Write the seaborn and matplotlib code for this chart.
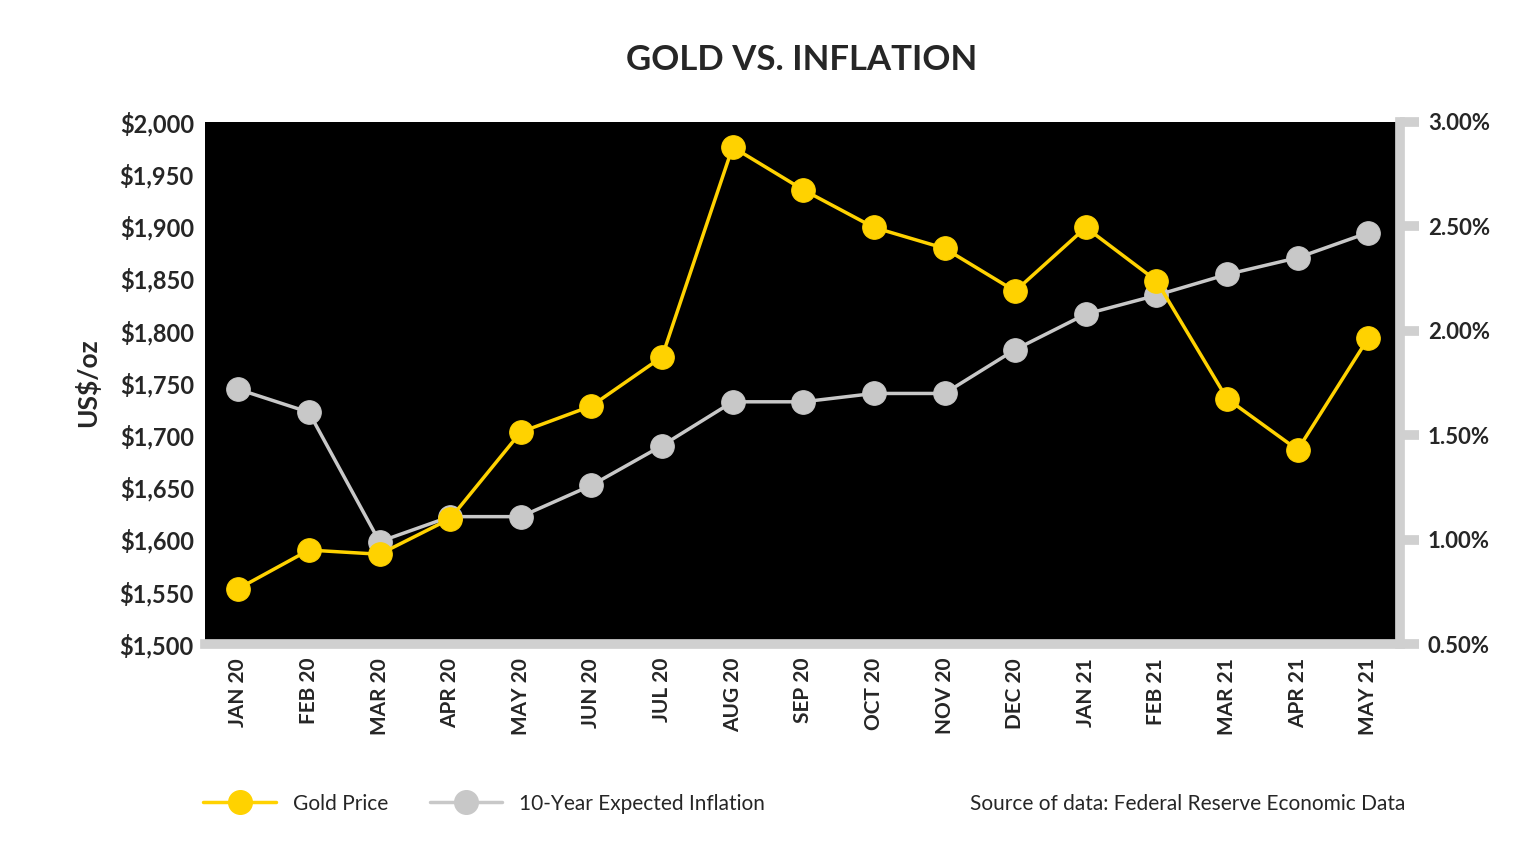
import matplotlib
matplotlib.use("Agg")
import matplotlib.pyplot as plt
from matplotlib.ticker import FuncFormatter
import seaborn as sns
import pandas as pd

months = ["JAN 20", "FEB 20", "MAR 20", "APR 20", "MAY 20", "JUN 20", "JUL 20", "AUG 20",
          "SEP 20", "OCT 20", "NOV 20", "DEC 20", "JAN 21", "FEB 21", "MAR 21", "APR 21", "MAY 21"]
gold_price = [1553, 1590, 1586, 1620, 1703, 1728, 1775, 1976, 1935, 1899, 1879, 1838,
              1899, 1848, 1735, 1686, 1793]
inflation = [1.72, 1.61, 0.99, 1.11, 1.11, 1.26, 1.45, 1.66, 1.66, 1.70, 1.70, 1.91,
             2.08, 2.17, 2.27, 2.35, 2.47]

sns.set_style("white")
plt.rcParams['font.family'] = ['Lato', 'DejaVu Sans']

df = pd.DataFrame({"month": months, "x": range(len(months)),
                   "gold": gold_price, "infl": inflation})

GOLD = "#FFD200"
GREY = "#C8C8C8"

fig = plt.figure(figsize=(15.36, 8.64), dpi=100)
ax = fig.add_axes([0.1335, 0.2546, 0.778, 0.6042])
ax.set_facecolor("black")
ax2 = ax.twinx()

sns.lineplot(data=df, x="x", y="infl", ax=ax2, color=GREY, lw=2.5, marker="o",
             markersize=17, markeredgecolor=GREY, zorder=3)
ax2.set_ylim(0.5, 3.0)
ax2.set_yticks([0.5, 1.0, 1.5, 2.0, 2.5, 3.0])
ax2.yaxis.set_major_formatter(FuncFormatter(lambda v, p: f"{v:.2f}%"))

# gold on top: draw on ax2 scale after converting
ax3 = ax.twinx()
ax3.set_ylim(1500, 2000)
ax3.axis("off")
sns.lineplot(data=df, x="x", y="gold", ax=ax3, color=GOLD, lw=2.5, marker="o",
             markersize=17, markeredgecolor=GOLD, zorder=4)

ax.set_ylim(1500, 2000)
ax.set_yticks(range(1500, 2001, 50))
ax.yaxis.set_major_formatter(FuncFormatter(lambda v, p: f"${int(v):,}"))
for a in (ax, ax2, ax3):
    a.set_xlim(-0.47, 16.45)
ax.set_xticks(range(len(months)))
ax.set_xticklabels(months, rotation=90, fontsize=15, fontweight="bold")
ax.set_xlabel("")
ax2.set_xlabel("")
ax3.set_xlabel("")
ax2.set_ylabel("")
ax.set_ylabel("US$/oz", fontsize=19, fontweight="bold", labelpad=14)
for lab in ax.get_yticklabels():
    lab.set_fontsize(17)
    lab.set_fontweight("bold")
for lab in ax2.get_yticklabels():
    lab.set_fontsize(16)
    lab.set_fontweight("bold")

for a in (ax, ax2):
    for s in a.spines.values():
        s.set_visible(False)
ax2.spines["right"].set_visible(True)
ax2.spines["right"].set_color("#D0D0D0")
ax2.spines["right"].set_linewidth(7)
ax.spines["bottom"].set_visible(True)
ax.spines["bottom"].set_color("#D0D0D0")
ax.spines["bottom"].set_linewidth(7)
ax.tick_params(axis="y", length=0, pad=8)
ax.tick_params(axis="x", length=0, pad=10)
ax2.tick_params(axis="y", length=14, width=7, color="#D0D0D0", pad=6)

fig.text(0.522, 0.93, "GOLD VS. INFLATION", ha="center", va="center",
         fontsize=25, fontweight="bold")

h1, = ax.plot([], [], color=GOLD, lw=2.5, marker="o", markersize=17, label="Gold Price")
h2, = ax.plot([], [], color=GREY, lw=2.5, marker="o", markersize=17,
              label="10-Year Expected Inflation")
fig.legend(handles=[h1, h2], loc="center left", bbox_to_anchor=(0.12, 0.07), ncol=2,
           frameon=False, fontsize=15, handlelength=3.5, columnspacing=2)
fig.text(0.915, 0.07, "Source of data: Federal Reserve Economic Data", ha="right",
         va="center", fontsize=15)

fig.savefig("out.png", dpi=100, facecolor="white")
